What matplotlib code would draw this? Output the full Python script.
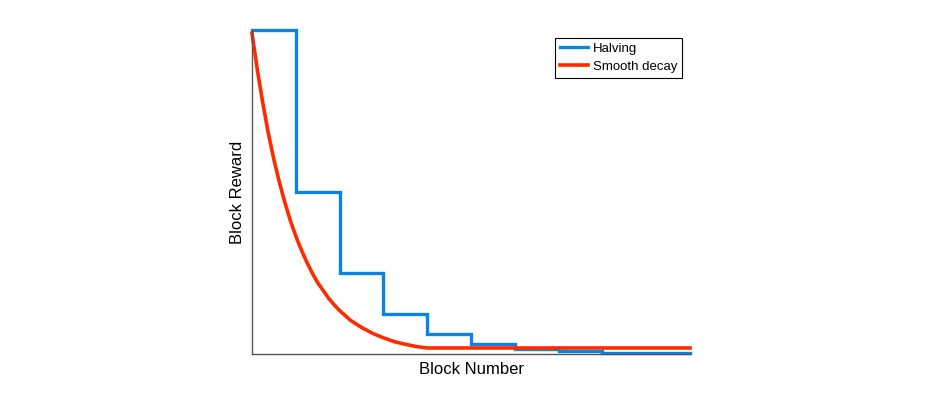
import numpy as np
from matplotlib import pyplot as plt

plt.rcParams['font.family'] = ['Liberation Sans', 'DejaVu Sans']

# halving: reward per period (block number in units of halving intervals)
halving_x = [0, 1, 2, 3, 4, 5, 6, 7, 8, 9, 10]
halving_y = [50, 25, 12.5, 6.25, 3.125, 1.5625, 0.78, 0.39, 0.2, 0.1, 0.1]

# smooth decay
decay_x = [0, 0.125, 0.25, 0.375, 0.5, 0.625, 0.75, 0.875, 1.0, 1.125, 1.25,
           1.375, 1.5, 1.625, 1.75, 1.875, 2.0, 2.25, 2.5, 2.75, 3.0, 3.25,
           3.5, 3.75, 4.0, 10]
decay_y = [49.5, 43.7, 38.6, 34.0, 30.0, 26.5, 23.4, 20.6, 18.2, 16.1, 14.2,
           12.5, 11.0, 9.8, 8.6, 7.6, 6.7, 5.2, 4.1, 3.2, 2.5, 1.9,
           1.5, 1.15, 0.93, 0.93]

fig = plt.figure(figsize=(9.38, 3.96), dpi=100)
ax = fig.add_axes([252/938, 1 - 354/396, 438/938, 324/396])

ax.plot(halving_x, halving_y, drawstyle='steps-post', color='#0a84e4',
        lw=2.4, label='Halving', solid_joinstyle='miter')
ax.plot(decay_x, decay_y, color='#ff2a00', lw=2.6, label='Smooth decay',
        solid_joinstyle='round')

ax.set_xlim(0, 10)
ax.set_ylim(0, 50)
ax.set_xticks([])
ax.set_yticks([])
for s in ['top', 'right']:
    ax.spines[s].set_visible(False)
for s in ['left', 'bottom']:
    ax.spines[s].set_color('#555555')
    ax.spines[s].set_linewidth(1.0)
for l in ax.lines:
    l.set_clip_on(False)

ax.set_xlabel('Block Number', fontsize=12, labelpad=6)
ax.set_ylabel('Block Reward', fontsize=12, labelpad=5)

leg = ax.legend(loc='upper right', fontsize=9.5, fancybox=False,
                framealpha=1, edgecolor='black', borderaxespad=0.6,
                handlelength=2.1, handletextpad=0.4, labelspacing=0.45,
                borderpad=0.35)
leg.get_frame().set_linewidth(0.8)

fig.savefig('out.png', dpi=100)
